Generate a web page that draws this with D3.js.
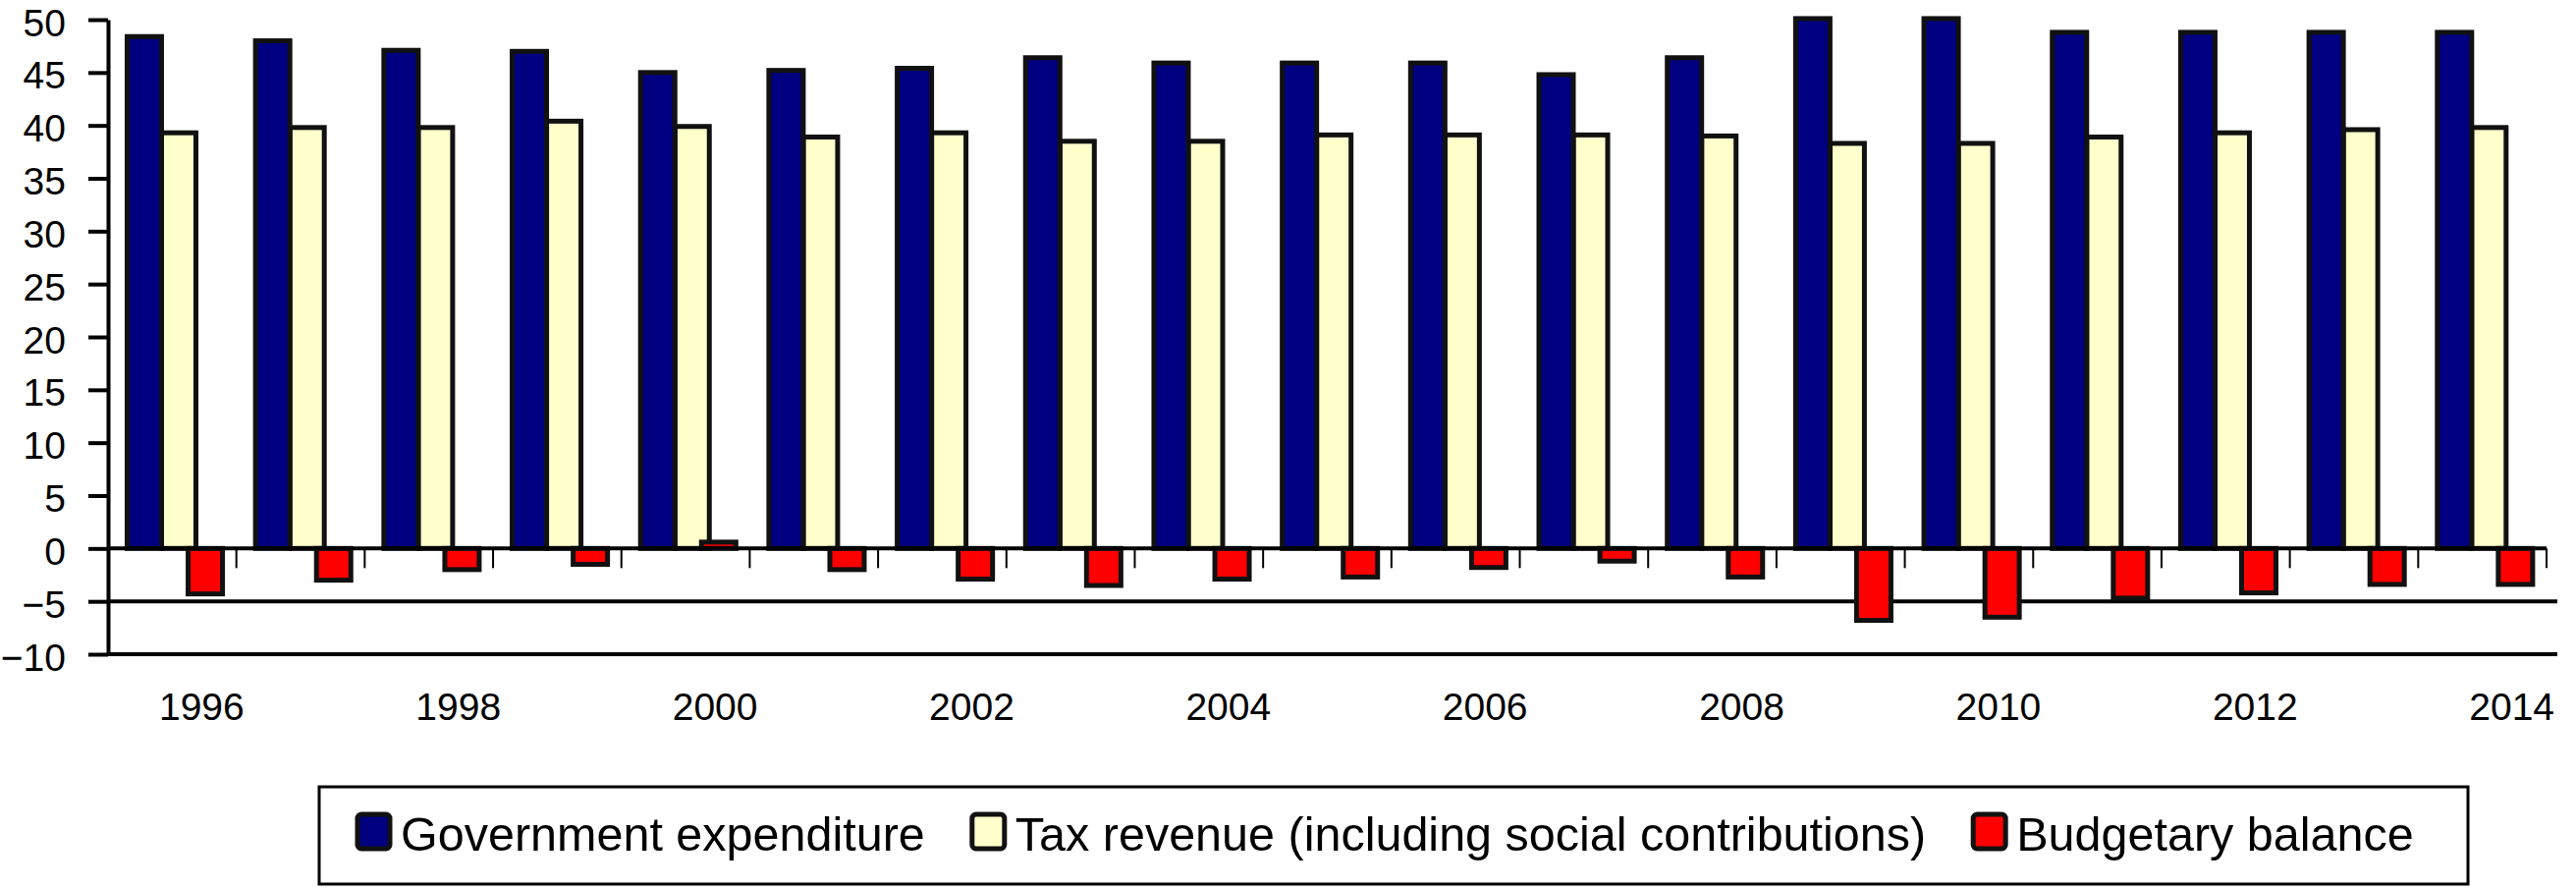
<!DOCTYPE html>
<html>
<head>
<meta charset="utf-8">
<script src="https://cdn.jsdelivr.net/npm/d3@7/dist/d3.min.js"></script>
<style>
  body { margin: 0; background: #fff; }
  svg { display: block; }
</style>
</head>
<body>
<script>
const years = [1996, 1997, 1998, 1999, 2000, 2001, 2002, 2003, 2004, 2005,
               2006, 2007, 2008, 2009, 2010, 2011, 2012, 2013, 2014];
const expenditure = [48.4, 48.0, 47.1, 47.0, 45.0, 45.2, 45.4, 46.4, 45.9, 45.9,
                     45.9, 44.8, 46.4, 50.1, 50.1, 48.8, 48.8, 48.8, 48.8];
const taxRevenue = [39.3, 39.8, 39.8, 40.4, 39.9, 38.9, 39.3, 38.5, 38.5, 39.1,
                    39.1, 39.1, 39.0, 38.3, 38.3, 38.9, 39.3, 39.6, 39.8];
const balance = [-4.3, -3.0, -2.0, -1.5, 0.6, -2.0, -2.9, -3.5, -2.9, -2.7,
                 -1.8, -1.2, -2.7, -6.8, -6.5, -4.7, -4.2, -3.4, -3.4];
const labelYears = [1996, 1998, 2000, 2002, 2004, 2006, 2008, 2010, 2012, 2014];
const yTicks = [50, 45, 40, 35, 30, 25, 20, 15, 10, 5, 0, -5, -10];
const seriesNames = ["Government expenditure",
                     "Tax revenue (including social contributions)",
                     "Budgetary balance"];

const width = 2623, height = 904;
const fills = ["#000080", "#ffffcc", "#ff0000"];
const edge = "#111";

const svg = d3.select("body").append("svg")
    .attr("width", width)
    .attr("height", height)
    .attr("font-family", "'Liberation Sans', Arial, sans-serif");

const x = d3.scaleBand().domain(years).range([110, 2593]);
const y = d3.scaleLinear().domain([-10, 50]).range([666, 20]);
const bw = x.bandwidth();

// bar centre as a share of the band; the balance bar overlaps like the Excel original
const slot = [0.283, 0.551, 0.758];
const barW = 35;

// extra horizontal rules at -5 and -10
svg.append("g")
    .attr("stroke", "#000")
    .attr("stroke-width", 4)
  .selectAll("line")
  .data([-5, -10])
  .join("line")
    .attr("x1", 110)
    .attr("x2", 2604)
    .attr("y1", d => y(d))
    .attr("y2", d => y(d));

const series = [expenditure, taxRevenue, balance];

// draw tax revenue first so the expenditure border sits on top of it
for (const k of [1, 0, 2]) {
  svg.append("g")
      .attr("fill", fills[k])
      .attr("stroke", edge)
      .attr("stroke-width", 5)
    .selectAll("rect")
    .data(years.map((yr, i) => ({yr, v: series[k][i]})))
    .join("rect")
      .attr("x", d => x(d.yr) + bw * slot[k] - barW / 2)
      .attr("width", barW)
      .attr("y", d => y(Math.max(0, d.v)))
      .attr("height", d => Math.abs(y(d.v) - y(0)));
}

// zero line with category ticks hanging below it
svg.append("line")
    .attr("x1", 110).attr("x2", 2593)
    .attr("y1", y(0)).attr("y2", y(0))
    .attr("stroke", "#000")
    .attr("stroke-width", 4);

svg.append("g")
    .attr("stroke", "#000")
    .attr("stroke-width", 2)
  .selectAll("line")
  .data(years)
  .join("line")
    .attr("x1", d => x(d) + bw)
    .attr("x2", d => x(d) + bw)
    .attr("y1", y(0))
    .attr("y2", y(0) + 20);

// y axis
const yAxis = svg.append("g")
    .attr("transform", "translate(110,0)")
    .call(d3.axisLeft(y).tickValues(yTicks).tickSize(20).tickSizeOuter(0).tickPadding(23));
yAxis.select(".domain").attr("stroke", "#000").attr("stroke-width", 4);
yAxis.selectAll(".tick line").attr("stroke", "#000").attr("stroke-width", 4);
yAxis.selectAll(".tick text")
    .attr("font-size", 39)
    .attr("dy", "0.41em")
    .attr("font-family", "'Liberation Sans', Arial, sans-serif")
    .attr("fill", "#000");

// year labels
svg.append("g")
    .attr("font-size", 39)
    .attr("text-anchor", "middle")
  .selectAll("text")
  .data(labelYears)
  .join("text")
    .attr("x", d => x(d) + bw / 2 + 30)
    .attr("y", y(-10) + 67)
    .text(d => d);

// legend
svg.append("rect")
    .attr("x", 325).attr("y", 801)
    .attr("width", 2188).attr("height", 99)
    .attr("fill", "#fff")
    .attr("stroke", "#000")
    .attr("stroke-width", 3);

let lx = 364;
seriesNames.forEach((name, k) => {
  const g = svg.append("g");
  g.append("rect")
      .attr("x", lx).attr("y", 829)
      .attr("width", 33).attr("height", 35)
      .attr("rx", 4)
      .attr("fill", fills[k])
      .attr("stroke", edge)
      .attr("stroke-width", 5);
  const t = g.append("text")
      .attr("x", lx + 44)
      .attr("y", 866)
      .attr("font-size", 48.5)
      .text(name);
  lx += 44 + t.node().getComputedTextLength() + 48;
});
</script>
</body>
</html>
